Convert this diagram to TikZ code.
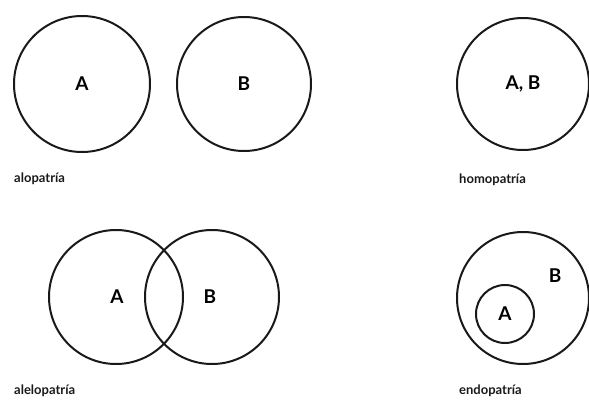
\documentclass[tikz,border=0pt]{standalone}
\usepackage{fontspec}
\setmainfont{Lato}
\usetikzlibrary{positioning}

\begin{document}
\begin{tikzpicture}[x=1pt, y=1pt,
  ring/.style={circle, draw=black!90, line width=2pt, inner sep=0pt, font=\bfseries\fontsize{19}{19}\selectfont},
  tag/.style={inner sep=0pt, font=\bfseries\fontsize{19}{19}\selectfont},
  caption/.style={anchor=west, inner sep=0pt, font=\bfseries\fontsize{13}{15}\selectfont, text=black!90}]
  \useasboundingbox (0,0) rectangle (589,-399);
  % alopatria
  \node[ring, minimum size=136pt] (aloA) at (82,-84) {A};
  \node[ring, minimum size=134pt] (aloB) at (244,-84) {B};
  \node[caption] (alo) at (14,-179) {alopatría};
  % homopatria
  \node[ring, minimum size=132pt] (homAB) at (523,-84) {A, B};
  \node[caption] (hom) at (459,-180) {homopatría};
  % alelopatria
  \node[ring, minimum size=134pt] (aleA) at (116,-297) {};
  \node[ring, minimum size=134pt] (aleB) at (212,-297) {};
  \node[tag] (aleAtxt) at (117,-297) {A};
  \node[tag] (aleBtxt) at (210,-297) {B};
  \node[caption] (ale) at (14,-391) {alelopatría};
  % endopatria
  \node[ring, minimum size=132pt] (endB) at (523,-298) {};
  \node[ring, minimum size=58pt] (endA) at (505,-314) {A};
  \node[tag] (endBtxt) at (555,-276) {B};
  \node[caption] (endo) at (459,-391) {endopatría};
\end{tikzpicture}
\end{document}
